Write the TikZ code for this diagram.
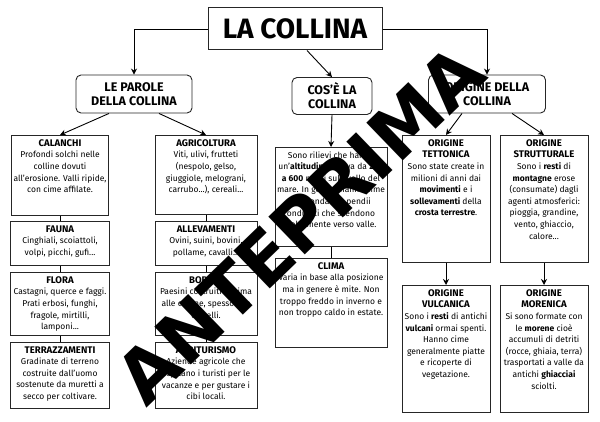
\documentclass[tikz,border=0pt]{standalone}
\usepackage{fontspec}
\setmainfont{Fira Sans}
\newfontfamily\markfont{DejaVu Sans}
\usetikzlibrary{arrows.meta}
\tikzset{
  card/.style={draw=black!85, line width=0.9pt, fill=white, align=center, inner sep=2pt,
    font=\fontsize{8.5}{11.6}\selectfont, anchor=north},
  head/.style={draw=black!85, line width=0.9pt, rounded corners=5pt, fill=white, align=center,
    font=\fontsize{12.5}{14}\selectfont\bfseries},
  link/.style={line width=0.9pt, -{Stealth[length=6pt,width=6pt]}},
  stem/.style={line width=0.9pt}
}
\newcommand{\tl}[1]{{\fontsize{9.6}{11.5}\selectfont\bfseries #1}\\}
\newcommand{\bx}[3]{\parbox[c][#1][t]{#2}{\centering\vspace{2pt}#3}}
\begin{document}
\begin{tikzpicture}[x=1pt,y=-1pt]
\useasboundingbox (0,0) rectangle (600,422);
% title and headings
\node[draw=black!85, line width=1pt, fill=white, minimum width=174pt, minimum height=42pt,
  font=\fontsize{28}{30}\selectfont\bfseries] (title) at (295,29) {LA COLLINA};
\node[head, minimum width=116pt, minimum height=38pt] (parole) at (134,94) {LE PAROLE\\DELLA COLLINA};
\node[head, minimum width=80pt, minimum height=37pt] (cose) at (332,96) {COS'È LA\\COLLINA};
\node[head, minimum width=117pt, minimum height=38pt] (origine) at (487,94) {ORIGINE DELLA\\COLLINA};
% left column
\node[card] (calanchi) at (60,135) {\bx{76pt}{93pt}{\tl{CALANCHI}Profondi solchi nelle colline dovuti all'erosione. Valli ripide, con cime affilate.}};
\node[card] (fauna) at (60,221) {\bx{40pt}{95pt}{\tl{FAUNA}Cinghiali, scoiattoli, volpi, picchi, gufi...}};
\node[card] (flora) at (60,272) {\bx{59pt}{95pt}{\tl{FLORA}Castagni, querce e faggi. Prati erbosi, funghi, fragole, mirtilli, lamponi...}};
\node[card] (terrazzi) at (60,342) {\bx{62pt}{95pt}{\tl{TERRAZZAMENTI}Gradinate di terreno costruite dall'uomo sostenute da muretti a secco per coltivare.}};
\node[card] (agricoltura) at (206,135) {\bx{75pt}{98pt}{\tl{AGRICOLTURA}Viti, ulivi, frutteti (nespolo, gelso, giuggiole, melograni, carrubo...), cereali...}};
\node[card] (allevamenti) at (206,221) {\bx{40pt}{98pt}{\tl{ALLEVAMENTI}Ovini, suini, bovini, pollame, cavalli...}};
\node[card] (borghi) at (206,272) {\bx{59pt}{98pt}{\tl{BORGHI}Paesini costruiti in cima alle colline, spesso con castelli.}};
\node[card] (agriturismo) at (206,342) {\bx{62pt}{98pt}{\tl{AGRITURISMO}Aziende agricole che ospitano i turisti per le vacanze e per gustare i cibi locali.}};
% middle column
\node[card] (rilievi) at (331,147) {\bx{95pt}{108pt}{Sono rilievi che hanno un'\textbf{altitudine} che va da \textbf{200 a 600} metri sul livello del mare. In genere hanno cime arrotondate e pendii ondulati che scendono dolcemente verso valle.}};
\node[card] (clima) at (331,258) {\bx{85pt}{108pt}{\tl{CLIMA}Varia in base alla posizione ma in genere è mite. Non troppo freddo in inverno e non troppo caldo in estate.}};
% right column
\node[card] (tettonica) at (446,135) {\bx{123pt}{84pt}{\tl{ORIGINE\\TETTONICA}Sono state create in milioni di anni dai \textbf{movimenti} e i \textbf{sollevamenti} della \textbf{crosta terrestre}.}};
\node[card] (strutturale) at (544,135) {\bx{123pt}{84pt}{\tl{ORIGINE\\STRUTTURALE}Sono i \textbf{resti} di \textbf{montagne} erose (consumate) dagli agenti atmosferici: pioggia, grandine, vento, ghiaccio, calore...}};
\node[card] (vulcanica) at (446,285) {\bx{123pt}{84pt}{\tl{ORIGINE\\VULCANICA}Sono i \textbf{resti} di antichi \textbf{vulcani} ormai spenti. Hanno cime generalmente piatte e ricoperte di vegetazione.}};
\node[card] (morenica) at (544,285) {\bx{123pt}{84pt}{\tl{ORIGINE\\MORENICA}Si sono formate con le \textbf{morene} cioè accumuli di detriti (rocce, ghiaia, terra) trasportati a valle da antichi \textbf{ghiacciai} sciolti.}};
% connectors
\draw[link] (title.west) -| (parole.north);
\draw[link] (title.east) -| (origine.north);
\draw[link] (title.south) ++(12,0) -- (cose.north);
\draw[link] (parole.south) ++(-25,0) -- (calanchi.north);
\draw[link] (parole.south) ++(25,0) -- (agricoltura.north);
\draw[link] (origine.south) ++(-25,0) -- (tettonica.north);
\draw[link] (origine.south) ++(25,0) -- (strutturale.north);
\draw[link] (cose.south) -- (rilievi.north);
\draw[link] (tettonica.south) -- (vulcanica.north);
\draw[link] (strutturale.south) -- (morenica.north);
\foreach \a/\b in {calanchi/fauna, fauna/flora, flora/terrazzi, agricoltura/allevamenti,
  allevamenti/borghi, borghi/agriturismo, rilievi/clima}
  \draw[stem] (\a.south) -- (\b.north);
% watermark
\node[rotate=44, font=\markfont\fontsize{72}{72}\selectfont\bfseries] (mark) at (300,224) {ANTEPRIMA};
\end{tikzpicture}
\end{document}
